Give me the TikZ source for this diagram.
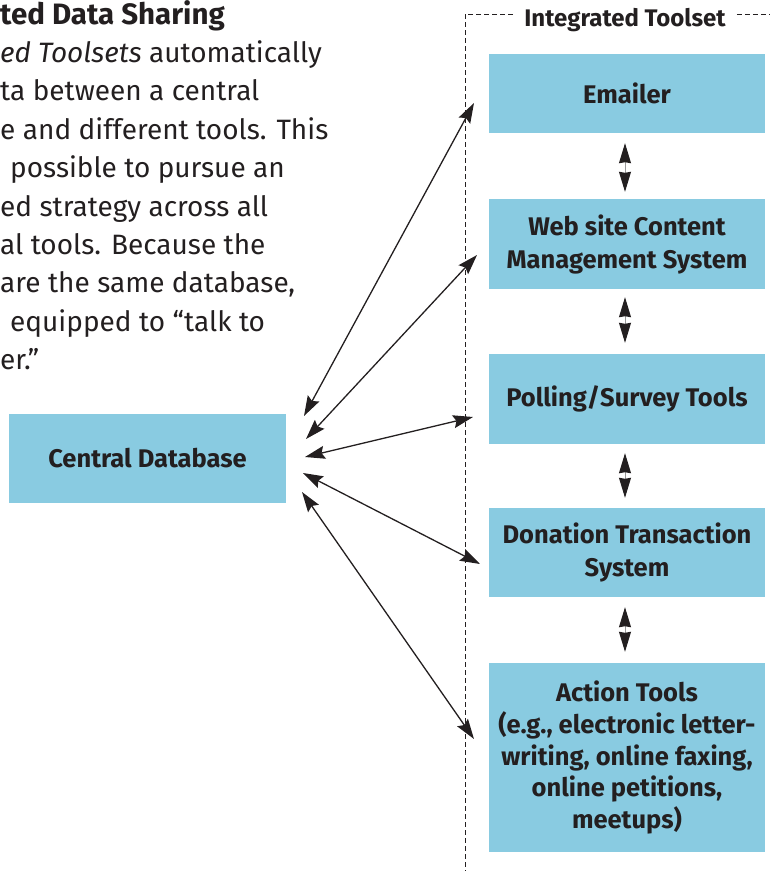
\documentclass[tikz,border=0pt]{standalone}
\usepackage{fontspec}
\setmainfont{Fira Sans}
\usetikzlibrary{arrows.meta}
\definecolor{boxblue}{RGB}{137,203,225}
\definecolor{ink}{RGB}{35,31,32}
\begin{document}
\begin{tikzpicture}[x=1pt,y=-1pt,
  tool/.style={fill=boxblue,draw=none,minimum width=276pt,align=center,
    font=\fontsize{25.5}{33}\selectfont\bfseries,text=ink,inner sep=0pt},
  body/.style={anchor=base west,inner sep=0pt,font=\fontsize{28}{34}\selectfont,text=ink},
  link/.style={ink,line width=1.3pt,{Stealth[length=20pt,width=13pt,inset=3pt]}-{Stealth[length=20pt,width=13pt,inset=3pt]}},
  step2/.style={draw=gray!80,line width=1pt,{Stealth[length=20pt,width=12pt,inset=1pt,color=ink]}-{Stealth[length=20pt,width=12pt,inset=1pt,color=ink]}},
  frame/.style={ink,line width=1pt,dash pattern=on 5pt off 3pt}]
\useasboundingbox (0,0) rectangle (770,871);

% left text
\node[body,font=\fontsize{29.5}{34}\selectfont\bfseries] (t1) at (0,24) {ted Data Sharing};
\node[body] (t2) at (0,62.4) {\textit{ed Toolsets} automatically};
\node[body] (t3) at (0,100.8) {ta between a central};
\node[body] (t4) at (0,139.2) {e and different tools. This};
\node[body] (t5) at (10,177.6) {possible to pursue an};
\node[body] (t6) at (0,216) {ed strategy across all};
\node[body] (t7) at (0,254.4) {al tools. Because the};
\node[body] (t8) at (0,292.8) {are the same database,};
\node[body] (t9) at (10,331.2) {equipped to “talk to};
\node[body] (t10) at (0,369.6) {er.”};

% frame
\node[font=\fontsize{24}{28}\selectfont\bfseries,text=ink,inner xsep=11pt,inner ysep=0pt] (title) at (625,20) {Integrated Toolset};
\coordinate (fc) at (465,14.5);
\coordinate (fb) at (465,871);
\coordinate (fr) at (770,14.5);
\draw[frame] (title.west |- fc) -- (fc) -- (fb);
\draw[frame] (title.east |- fr) -- (fr);

% boxes
\node[tool,minimum width=277pt,minimum height=89pt] (db) at (147.5,458.5) {Central Database};
\node[tool,minimum height=79pt] (em) at (627,93.5) {Emailer};
\node[tool,minimum height=90pt] (web) at (627,244) {Web site Content\\Management System};
\node[tool,minimum height=90pt] (poll) at (627,399) {Polling/Survey Tools};
\node[tool,minimum height=89pt] (don) at (627,552.5) {Donation Transaction\\System};
\node[tool,minimum height=189pt,font=\fontsize{25.5}{31.7}\selectfont\bfseries] (act) at (627,757.5) {Action Tools\\(e.g., electronic letter-\\writing, online faxing,\\online petitions,\\meetups)};

% vertical arrows between tools (canvas yshift: positive is up)
\draw[step2] ([yshift=-10pt]em.south -| 625,0) -- ([yshift=7pt]web.north -| 625,0);
\draw[step2] ([yshift=-8pt]web.south -| 625,0) -- ([yshift=11pt]poll.north -| 625,0);
\draw[step2] ([yshift=-9pt]poll.south -| 625,0) -- ([yshift=10pt]don.north -| 625,0);
\draw[step2] ([yshift=-10pt]don.south -| 625,0) -- ([yshift=11pt]act.north -| 625,0);

% diagonal arrows
\coordinate (d1) at (304,416);
\coordinate (d2) at (306,439);
\coordinate (d3) at (305,457);
\coordinate (d4) at (303,473);
\coordinate (d5) at (302,492);
\coordinate (e1) at (474,103);
\coordinate (e2) at (477,255);
\coordinate (e3) at (473,417);
\coordinate (e4) at (480,564);
\coordinate (e5) at (474,739);
\draw[link] (d1) -- (e1);
\draw[link] (d2) -- (e2);
\draw[link] (d3) -- (e3);
\draw[link] (d4) -- (e4);
\draw[link] (d5) -- (e5);
\end{tikzpicture}
\end{document}
